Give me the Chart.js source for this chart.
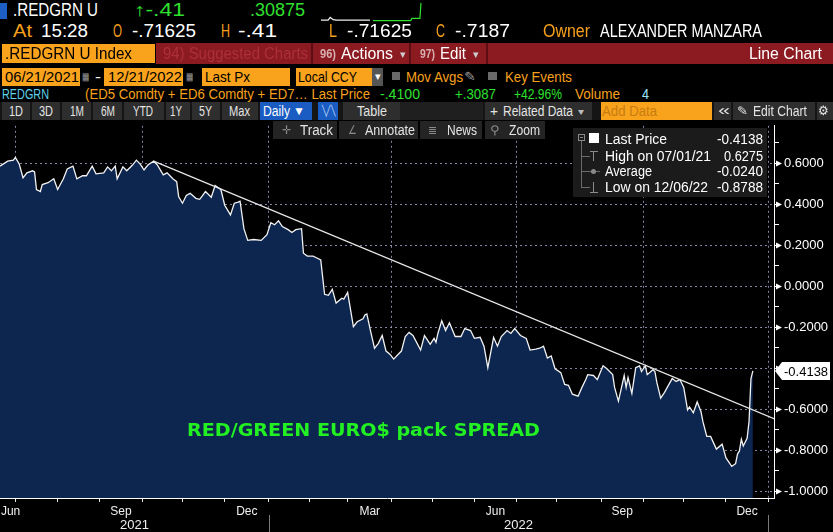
<!DOCTYPE html>
<html>
<head>
<meta charset="utf-8">
<script src="https://cdn.jsdelivr.net/npm/chart.js@4.4.1/dist/chart.umd.min.js"></script>
<style>
  html, body { margin: 0; padding: 0; background: #000; width: 833px; height: 532px; overflow: hidden; position: relative; }
  #wrap { position: absolute; left: 0; top: 113px; width: 833px; height: 419px; }
  #sparkWrap { position: absolute; left: 321px; top: 0; width: 101px; height: 22px; }
</style>
</head>
<body>
<div id="wrap"><canvas id="chart"></canvas></div>
<div id="sparkWrap"><canvas id="spark"></canvas></div>
<script>
// ----------------------
// Data
// ----------------------
// trading-day index counted from 06/21/2021
const tradeDay = [
  0, 4, 7, 8, 10, 12, 14, 17, 18, 19,
  21, 22, 25, 28, 30, 33, 35, 38, 40, 43,
  45, 48, 50, 54, 56, 58, 60, 61, 64, 66,
  69, 71, 73, 75, 77, 80, 82, 85, 87, 90,
  92, 93, 95, 97, 99, 102, 104, 107, 110, 112,
  115, 117, 120, 122, 124, 125, 127, 129, 132, 136,
  139, 141, 143, 145, 147, 150, 152, 154, 157, 158,
  160, 163, 165, 167, 169, 171, 173, 175, 178, 179,
  181, 184, 186, 189, 190, 191, 193, 195, 197, 199,
  201, 203, 205, 207, 209, 211, 213, 215, 219, 221,
  222, 224, 226, 227, 228, 230, 232, 234, 237, 240,
  242, 245, 247, 250, 252, 254, 257, 259, 261, 264,
  266, 268, 271, 274, 276, 279, 281, 283, 285, 287,
  289, 292, 294, 296, 298, 301, 303, 305, 306, 309,
  311, 314, 316, 319, 320, 322, 325, 326, 327, 329,
  331, 333, 334, 336, 337, 340, 341, 342, 344, 346,
  348, 350, 352, 354, 356, 358, 359, 361, 363, 365,
  366, 368, 370, 373, 376, 378, 381, 383, 384, 385,
  386, 387, 389, 390, 391, 392
];
const spread = [
  0.585, 0.609, 0.614, 0.6275, 0.595, 0.528, 0.552, 0.562, 0.557, 0.471,
  0.461, 0.495, 0.504, 0.523, 0.471, 0.523, 0.571, 0.585, 0.523, 0.538,
  0.538, 0.585, 0.547, 0.552, 0.581, 0.562, 0.585, 0.523, 0.581, 0.562,
  0.590, 0.614, 0.595, 0.566, 0.590, 0.609, 0.590, 0.542, 0.552, 0.523,
  0.509, 0.437, 0.404, 0.442, 0.452, 0.428, 0.423, 0.461, 0.433, 0.490,
  0.471, 0.394, 0.347, 0.404, 0.409, 0.414, 0.280, 0.223, 0.227, 0.223,
  0.251, 0.309, 0.299, 0.318, 0.290, 0.275, 0.261, 0.275, 0.280, 0.160,
  0.146, 0.146, 0.137, 0.127, -0.040, -0.045, -0.016, -0.083, -0.059, -0.064,
  -0.031, -0.198, -0.174, -0.160, -0.141, -0.136, -0.222, -0.303, -0.279, -0.241,
  -0.317, -0.332, -0.356, -0.336, -0.317, -0.246, -0.226, -0.241, -0.312, -0.241,
  -0.255, -0.284, -0.255, -0.274, -0.231, -0.169, -0.217, -0.179, -0.246, -0.246,
  -0.207, -0.217, -0.255, -0.250, -0.293, -0.398, -0.250, -0.293, -0.246, -0.217,
  -0.231, -0.207, -0.241, -0.255, -0.312, -0.308, -0.303, -0.293, -0.351, -0.341,
  -0.403, -0.422, -0.480, -0.484, -0.527, -0.537, -0.494, -0.456, -0.432, -0.436,
  -0.456, -0.389, -0.403, -0.432, -0.494, -0.561, -0.436, -0.494, -0.446, -0.523,
  -0.398, -0.389, -0.417, -0.389, -0.432, -0.408, -0.417, -0.470, -0.546, -0.518,
  -0.484, -0.451, -0.465, -0.456, -0.494, -0.604, -0.589, -0.618, -0.565, -0.613,
  -0.661, -0.733, -0.733, -0.795, -0.771, -0.838, -0.8788, -0.866, -0.819, -0.804,
  -0.747, -0.780, -0.742, -0.661, -0.451, -0.4138
];

// hand-drawn trend line
const trendDay = [80, 403];
const trendValue = [0.609, -0.647];

// axis labels
const quarterMonths = ["2021-06", "2021-09", "2021-12", "2022-03", "2022-06", "2022-09", "2022-12"];
const quarterLabels = ["Jun", "Sep", "Dec", "Mar", "Jun", "Sep", "Dec"];
const yearLabels = ["2021", "2022"];
const yTickValues = [-1.0, -0.9, -0.8, -0.7, -0.6, -0.5, -0.4, -0.3, -0.2, -0.1, 0.0, 0.1, 0.2, 0.3, 0.4, 0.5, 0.6, 0.7];

// intraday sparkline in the header
const sparkX = [0, 7, 9, 12, 15, 48, 49, 51, 88, 89, 97, 98];
const sparkY = [-0.712, -0.712, -0.665, -0.705, -0.712, -0.712, null, -0.72, -0.72, -0.68, -0.68, -0.41];

// ----------------------
// Helpers
// ----------------------
const FONT = "'Liberation Sans', Arial, sans-serif";
const START = Date.UTC(2021, 5, 21);
const X_MAX = 403;

function tdIndex(y, m, d) {
  const t = Date.UTC(y, m, d);
  let n = 0;
  for (let u = START; u < t; u += 864e5) {
    const wd = new Date(u).getUTCDay();
    if (wd !== 0 && wd !== 6) n++;
  }
  return n;
}

const monthStarts = [];
const monthIsQuarter = [];
for (let k = 0; k < 19; k++) {
  const m = 6 + k; // Jul 2021 ...
  monthStarts.push(tdIndex(2021, m, 1));
  monthIsQuarter.push(m % 3 === 0);
}
const quarterTicks = quarterMonths.map(s => {
  const [Y, M] = s.split("-").map(Number);
  const a = Math.max(tdIndex(Y, M - 1, 1), 0);
  const b = Math.min(tdIndex(Y, M, 1), 400);
  return Math.max((a + b) / 2, 5.5);
});
const yearStarts = [tdIndex(2022, 0, 1), tdIndex(2023, 0, 1)];
const yearTicks = [(0 + yearStarts[0]) / 2, (yearStarts[0] + yearStarts[1]) / 2];
const isMajor = v => Math.round(v * 10) % 2 === 0;

function rect(x0, y0, x1, y1, bg) {
  const d = document.createElement("div");
  d.style.cssText = `position:absolute;left:${x0}px;top:${y0}px;width:${x1 - x0}px;height:${y1 - y0}px;background:${bg};`;
  document.body.appendChild(d);
  return d;
}

function put(txt, x0, x1, cy, size, color, o) {
  o = o || {};
  const s = document.createElement("div");
  s.textContent = txt;
  s.style.cssText = `position:absolute;white-space:nowrap;left:${x0}px;top:${cy - size * 0.6}px;` +
    `font-size:${size}px;line-height:${size * 1.2}px;color:${color};font-family:${o.font || FONT};` +
    `font-weight:${o.bold ? "bold" : "normal"};transform-origin:0 0;`;
  document.body.appendChild(s);
  const w = s.getBoundingClientRect().width;
  if (w > 0) s.style.transform = `scaleX(${(x1 - x0) / w})`;
  return s;
}

// ----------------------
// Main chart
// ----------------------
const GRID = "rgba(165,165,200,0.8)";

const bbgExtras = {
  id: "bbgExtras",
  afterDraw(chart) {
    const { ctx, scales } = chart;
    const y = scales.y, x = scales.x;
    ctx.save();
    // little arrow heads on labelled y ticks
    ctx.fillStyle = "#ffffff";
    y.ticks.forEach(t => {
      if (!isMajor(t.value)) return;
      const py = Math.round(y.getPixelForValue(t.value)) + 0.5;
      ctx.beginPath();
      ctx.moveTo(y.left + 2, py - 3);
      ctx.lineTo(y.left + 8, py);
      ctx.lineTo(y.left + 2, py + 3);
      ctx.closePath();
      ctx.fill();
    });
    // last price badge
    const last = spread[spread.length - 1];
    const py = y.getPixelForValue(last);
    ctx.fillStyle = "#ffffff";
    ctx.beginPath();
    ctx.moveTo(y.left + 1, py);
    ctx.lineTo(y.left + 8, py - 9);
    ctx.lineTo(y.left + 56, py - 9);
    ctx.lineTo(y.left + 56, py + 9);
    ctx.lineTo(y.left + 8, py + 9);
    ctx.closePath();
    ctx.fill();
    ctx.fillStyle = "#000000";
    ctx.font = "13px " + FONT;
    ctx.textBaseline = "middle";
    ctx.textAlign = "left";
    ctx.fillText(last.toFixed(4), y.left + 10, py + 1);
    // year separators under the axis
    ctx.strokeStyle = "#7a7a7a";
    ctx.lineWidth = 1;
    yearStarts.forEach(d => {
      const px = Math.round(x.getPixelForValue(d)) + 0.5;
      ctx.beginPath();
      ctx.moveTo(px, chart.chartArea.bottom + 17);
      ctx.lineTo(px, chart.height);
      ctx.stroke();
    });
    ctx.restore();
  }
};

new Chart(document.getElementById("chart"), {
  type: "line",
  data: {
    datasets: [
      {
        data: tradeDay.map((d, i) => ({ x: d, y: spread[i] })),
        borderColor: "#f2f2f2",
        borderWidth: 1.3,
        pointRadius: 0,
        tension: 0,
        fill: "start",
        backgroundColor: "#0c2650",
        order: 2
      },
      {
        data: trendDay.map((d, i) => ({ x: d, y: trendValue[i] })),
        borderColor: "#e8e8e8",
        borderWidth: 1.2,
        pointRadius: 0,
        fill: false,
        order: 1
      }
    ]
  },
  options: {
    animation: false,
    responsive: true,
    maintainAspectRatio: false,
    events: [],
    layout: { padding: { top: 5, left: 0, right: 0, bottom: 0 } },
    plugins: { legend: { display: false }, tooltip: { enabled: false } },
    scales: {
      x: {
        type: "linear", bounds: "data", min: 0, max: X_MAX, position: "bottom",
        afterBuildTicks: s => { s.ticks = monthStarts.map(v => ({ value: v })); },
        ticks: { display: false, autoSkip: false },
        grid: {
          color: c => (c.index !== undefined && monthIsQuarter[c.index]) ? GRID : "rgba(0,0,0,0)",
          tickColor: "#e6e6e6", tickLength: 4, tickWidth: 1
        },
        border: { color: "#ffffff", dash: [2, 3] },
        afterFit: s => { s.height = 6; }
      },
      xq: {
        type: "linear", bounds: "data", min: 0, max: X_MAX, position: "bottom",
        afterBuildTicks: s => { s.ticks = quarterTicks.map(v => ({ value: v })); },
        ticks: {
          autoSkip: false, maxRotation: 0, padding: 0, color: "#f0f0f0",
          font: { family: FONT, size: 12 },
          callback: (v, i) => quarterLabels[i]
        },
        grid: { display: false, drawTicks: false },
        border: { display: false },
        afterFit: s => { s.height = 14; }
      },
      xYear: {
        type: "linear", bounds: "data", min: 0, max: X_MAX, position: "bottom",
        afterBuildTicks: s => { s.ticks = yearTicks.map(v => ({ value: v })); },
        ticks: {
          autoSkip: false, maxRotation: 0, padding: 0, color: "#f0f0f0",
          font: { family: FONT, size: 13 },
          callback: (v, i) => yearLabels[i]
        },
        grid: { display: false, drawTicks: false },
        border: { display: false },
        afterFit: s => { s.height = 14; }
      },
      y: {
        type: "linear", bounds: "data", position: "right", min: -1.0334, max: 0.7815,
        afterBuildTicks: s => { s.ticks = yTickValues.map(v => ({ value: v })); },
        ticks: {
          autoSkip: false, padding: 5, color: "#ffffff",
          font: { family: FONT, size: 13 },
          callback: v => isMajor(v) ? v.toFixed(4) : ""
        },
        grid: {
          color: c => (c.tick && isMajor(c.tick.value)) ? GRID : "rgba(0,0,0,0)",
          tickColor: "#ffffff", tickLength: 5, tickWidth: 1
        },
        border: { color: "#ffffff", dash: [2, 3] },
        afterFit: s => { s.width = 59; }
      }
    }
  },
  plugins: [bbgExtras]
});

// ----------------------
// Header sparkline
// ----------------------
new Chart(document.getElementById("spark"), {
  type: "line",
  data: {
    datasets: [{
      data: sparkX.map((v, i) => ({ x: v, y: sparkY[i] })),
      borderWidth: 1.2,
      pointRadius: 0,
      spanGaps: false,
      segment: { borderColor: c => c.p0DataIndex >= 7 ? "#2fe02f" : "#f0f0f0" }
    }]
  },
  options: {
    animation: false, responsive: true, maintainAspectRatio: false, events: [],
    layout: { padding: 0 },
    plugins: { legend: { display: false }, tooltip: { enabled: false } },
    scales: {
      x: { type: "linear", min: 0, max: 99, display: false },
      y: { min: -0.745, max: -0.36, display: false }
    }
  }
});

// ----------------------
// Terminal chrome
// ----------------------
const W = "#ffffff", G = "#2fe02f", O = "#f7a01c", C = "#5fd0e8", OR = "#f9a21b";

// row 1
rect(0, 3, 7, 19, "#1d5fc4");
put(".REDGRN U", 13, 98, 11, 18, W);
put("\u2191-.41", 134, 185, 11, 18, G);
put(".30875", 250, 305, 11, 18, G);

// row 2
put("At", 13, 32, 32, 18, O);
put("15:28", 41, 88, 32, 18, W);
put("O", 113, 122, 32, 18, O);
put("-.71625", 132, 196, 32, 18, W);
put("H", 221, 230, 32, 18, O);
put("-.41", 238, 277, 32, 18, W);
put("L", 329, 337, 32, 18, O);
put("-.71625", 347, 412, 32, 18, W);
put("C", 436, 445, 32, 18, O);
put("-.7187", 455, 510, 32, 18, W);
put("Owner", 543, 590, 32, 18, O);
put("ALEXANDER MANZARA", 600, 762, 32, 18, W);

// row 3
rect(2, 44, 155, 63, OR);
rect(156, 43, 833, 64, "#8c1a21");
rect(311, 43, 313, 64, "#5c0e14");
rect(409, 43, 411, 64, "#5c0e14");
rect(486, 43, 488, 64, "#5c0e14");
put(".REDGRN U Index", 5, 132, 54, 16, "#000");
put("94) Suggested Charts", 163, 308, 54, 16, "#ad2f3a");
put("96)", 320, 336, 54, 13, "#d8b0b0", { bold: true });
put("Actions", 341, 393, 54, 16, W);
put("\u25BE", 400, 406, 55, 11, "#cccccc");
put("97)", 420, 435, 54, 13, "#d8b0b0", { bold: true });
put("Edit", 440, 466, 54, 16, W);
put("\u25BE", 473, 479, 55, 11, "#cccccc");
put("Line Chart", 749, 822, 54, 16, W);

// row 4
rect(2, 68, 80, 86, OR);
rect(104, 68, 183, 86, OR);
rect(202, 68, 290, 86, OR);
rect(296, 68, 372, 86, OR);
rect(372, 68, 383, 86, "#555555");
rect(392, 72, 400, 80, "#6a6a6a");
rect(488, 72, 497, 80, "#6a6a6a");
put("06/21/2021", 5, 79, 77, 15, "#000");
put("\u25A6", 82, 89, 77, 10, "#9a9a9a");
put("-", 95, 101, 77, 15, W);
put("12/21/2022", 108, 182, 77, 15, "#000");
put("\u25A6", 186, 193, 77, 10, "#9a9a9a");
put("Last Px", 205, 250, 77, 15, "#000");
put("Local CCY", 298, 357, 77, 15, "#000");
put("\u25BE", 375, 381, 77, 11, W);
put("Mov Avgs", 406, 463, 77, 15, O);
put("\u270E", 464, 476, 77, 13, "#9a9a9a");
put("Key Events", 505, 572, 77, 15, O);

// row 5
put("REDGRN", 2, 49, 94, 14, C);
put("(ED5 Comdty + ED6 Comdty + ED7\u2026 Last Price", 85, 370, 94, 14, O);
put("-.4100", 380, 420, 94, 14, G);
put("+.3087", 455, 496, 94, 14, G);
put("+42.96%", 514, 562, 94, 14, G);
put("Volume", 575, 620, 94, 14, O);
put("4", 642, 649, 94, 14, "#9fe6ff");

// row 6 toolbar
rect(0, 102, 833, 120, "#151515");
[[2, 30], [32, 60], [62, 91], [93, 122], [124, 164], [166, 190], [192, 220], [222, 258],
 [343, 400], [485, 592], [714, 731], [733, 815], [817, 833]].forEach(b => rect(b[0], 102, b[1], 120, "#2e2e2e"));
rect(400, 102, 483, 120, "#1f1f1f");
rect(260, 102, 312, 120, "#1a5cc2");
rect(318, 102, 338, 120, "#1a5cc2");
rect(601, 102, 712, 120, OR);
const T = "#e4e4e4";
put("1D", 9, 23, 111, 14, T);
put("3D", 39, 53, 111, 14, T);
put("1M", 70, 84, 111, 14, T);
put("6M", 101, 115, 111, 14, T);
put("YTD", 133, 153, 111, 14, T);
put("1Y", 170, 182, 111, 14, T);
put("5Y", 199, 212, 111, 14, T);
put("Max", 229, 250, 111, 14, T);
put("Daily", 263, 290, 111, 14, W);
put("\u25BC", 293, 305, 111, 12, W);
put("\u2572\u2571\u2572", 322, 335, 111, 10, "#cfe0ff");
put("Table", 357, 387, 111, 14, T);
put("+", 490, 498, 111, 15, T);
put("Related Data", 503, 573, 111, 14, T);
put("\u25BE", 578, 584, 112, 10, "#bbbbbb");
put("Add Data", 602, 657, 111, 14, "#c77d12");
put("\u00AB", 718, 730, 110, 15, T);
put("\u270E", 737, 748, 111, 12, T);
put("Edit Chart", 753, 807, 111, 14, T);
put("\u2699", 818, 829, 111, 13, T);

// row 7 chart buttons
[[273, 337], [339, 418], [420, 482], [485, 545]].forEach(b => rect(b[0], 121, b[1], 139, "#242424"));
put("\u271B", 282, 291, 130, 12, "#8a8a8a");
put("Track", 300, 333, 130, 14, T);
put("\u2220", 348, 357, 130, 12, "#8a8a8a");
put("Annotate", 365, 415, 130, 14, T);
put("\u2263", 428, 437, 130, 12, "#8a8a8a");
put("News", 447, 477, 130, 14, T);
put("\u26B2", 490, 500, 130, 12, "#8a8a8a");
put("Zoom", 509, 540, 130, 14, T);

// legend box
rect(573, 128, 767, 197, "#1b1b1b");
const lg = rect(578, 134, 585, 141, "#1b1b1b");
lg.style.border = "1px solid #8a8a8a";
lg.style.boxSizing = "border-box";
rect(580, 137, 583, 138, "#8a8a8a");
rect(589, 133, 599, 143, "#ffffff");
rect(581, 141, 582, 188, "#6a6a6a");
rect(581, 156, 590, 157, "#6a6a6a");
rect(581, 171, 600, 172, "#6a6a6a");
rect(581, 187, 590, 188, "#6a6a6a");
rect(590, 151, 598, 152, "#8a8a8a");
rect(593, 151, 594, 161, "#8a8a8a");
const avgDot = rect(591, 169, 596, 174, "#8a8a8a");
avgDot.style.borderRadius = "50%";
rect(593, 182, 594, 192, "#8a8a8a");
rect(590, 192, 598, 193, "#8a8a8a");
put("Last Price", 605, 667, 139, 14, W);
put("-0.4138", 717, 763, 139, 14, W);
put("High on 07/01/21", 605, 711, 156, 14, W);
put("0.6275", 724, 763, 156, 14, W);
put("Average", 605, 652, 171, 14, W);
put("-0.0240", 717, 763, 171, 14, W);
put("Low on 12/06/22", 605, 708, 187, 14, W);
put("-0.8788", 717, 763, 187, 14, W);

// annotation on the chart
put("RED/GREEN EURO$ pack SPREAD", 187, 540, 430, 18, "#22f022", { bold: true, font: "'DejaVu Sans', sans-serif" });
</script>
</body>
</html>
